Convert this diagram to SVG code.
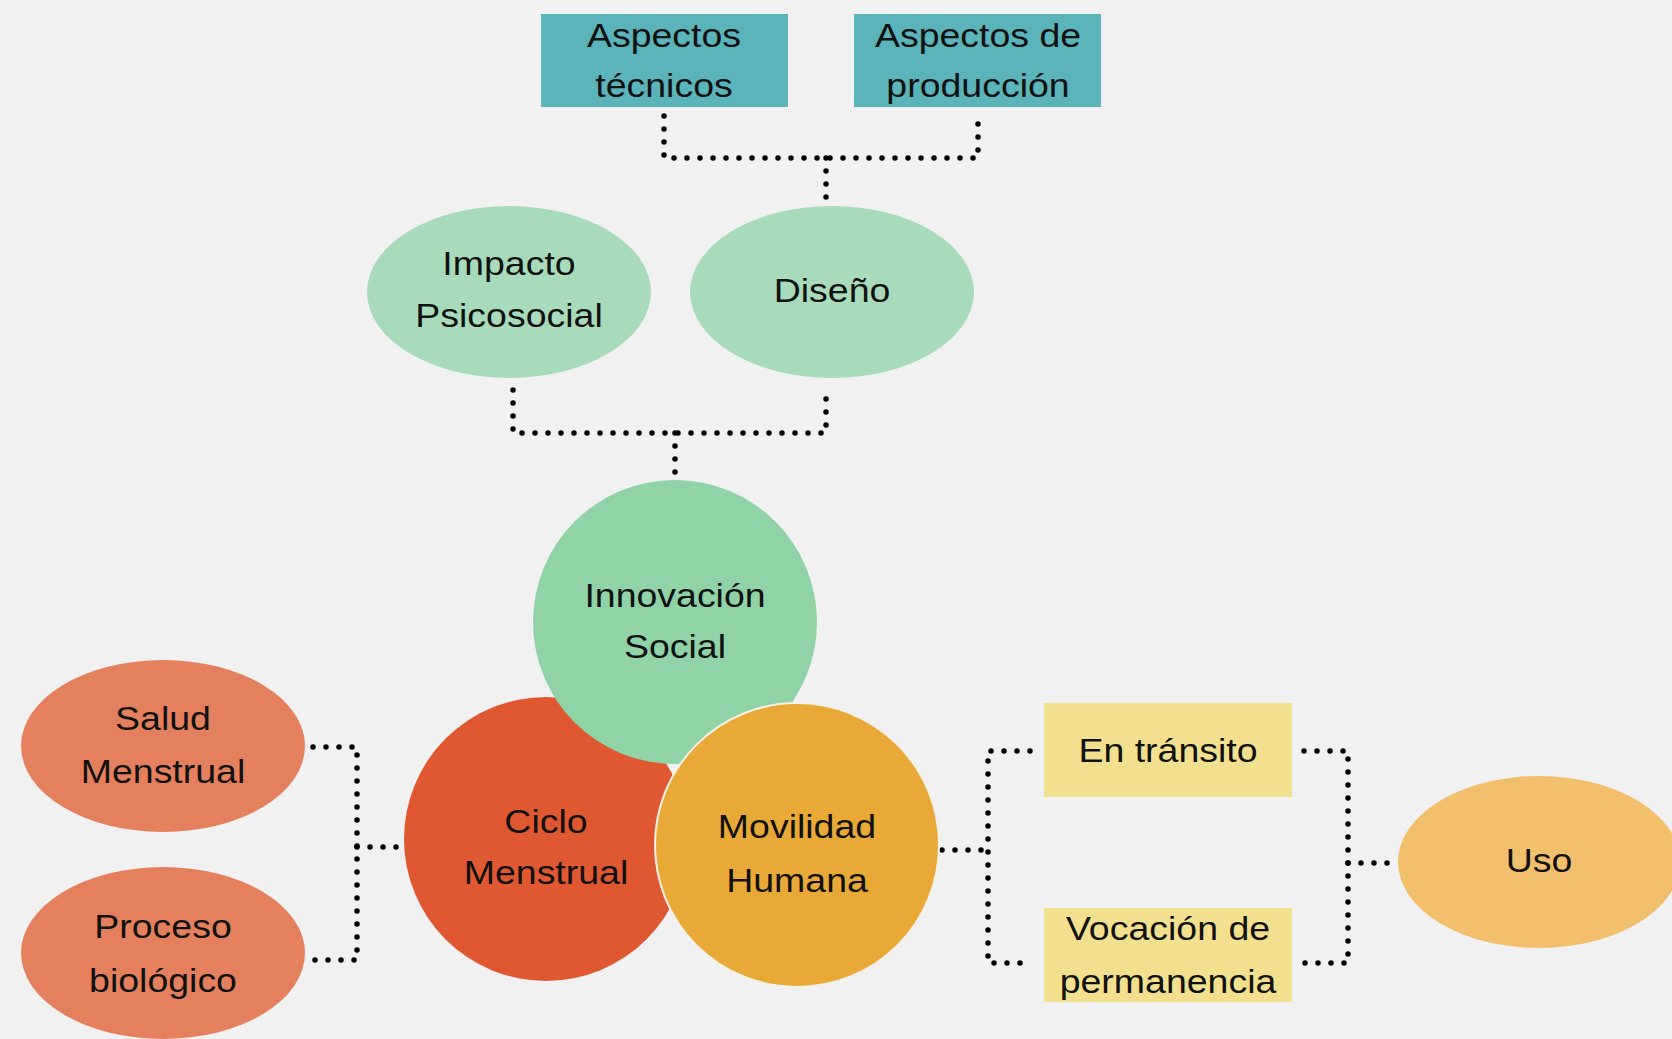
<svg xmlns="http://www.w3.org/2000/svg" width="1672" height="1039" viewBox="0 0 1672 1039">
<style>
  text { font-family: "Liberation Sans", Arial, sans-serif; font-size: 33px; fill: #111; text-anchor: middle; }
  .conn { fill: none; stroke: #000; stroke-width: 5.5; stroke-linecap: round; stroke-dasharray: 0 13; }
  .teal { fill: #5bb4b9; }
  .lgreen { fill: #a8dbb9; }
  .yellow { fill: #f3e08f; }
  .salmon { fill: #e5805e; }
</style>
<rect x="0" y="0" width="1672" height="1039" fill="#f1f1f1"/>

<g id="connectors">
  <path class="conn" d="M664 116 V158 H978 V116"/>
  <path class="conn" d="M826 158 V203"/>
  <path class="conn" d="M513 390 V433 H826 V390"/>
  <path class="conn" d="M675 433 V477"/>
  <path class="conn" d="M313 747 H357 V960 H313"/>
  <path class="conn" d="M357 847 H403"/>
  <path class="conn" d="M1030 751 H988 V963 H1030"/>
  <path class="conn" d="M942 850 H988"/>
  <path class="conn" d="M1304 751 H1348 V963 H1304"/>
  <path class="conn" d="M1348 863 H1392"/>
</g>

<g id="aspectos-tecnicos">
  <rect class="teal" x="541" y="14" width="247" height="93"/>
  <g transform="translate(664 0) scale(1.136 1)">
    <text x="0" y="47">Aspectos</text>
    <text x="0" y="97">técnicos</text>
  </g>
</g>
<g id="aspectos-produccion">
  <rect class="teal" x="854" y="14" width="247" height="93"/>
  <g transform="translate(978 0) scale(1.136 1)">
    <text x="0" y="47">Aspectos de</text>
    <text x="0" y="97">producción</text>
  </g>
</g>

<g id="impacto-psicosocial">
  <ellipse class="lgreen" cx="509" cy="292" rx="142" ry="86"/>
  <g transform="translate(509 0) scale(1.136 1)">
    <text x="0" y="275">Impacto</text>
    <text x="0" y="327">Psicosocial</text>
  </g>
</g>
<g id="diseno">
  <ellipse class="lgreen" cx="832" cy="292" rx="142" ry="86"/>
  <g transform="translate(832 0) scale(1.136 1)">
    <text x="0" y="302">Diseño</text>
  </g>
</g>

<g id="ciclo-menstrual">
  <circle cx="546" cy="839" r="142" fill="#e05832"/>
  <g transform="translate(546 0) scale(1.136 1)">
    <text x="0" y="833">Ciclo</text>
    <text x="0" y="884">Menstrual</text>
  </g>
</g>
<g id="innovacion-social">
  <circle cx="675" cy="622" r="142" fill="#8fd3a6"/>
  <g transform="translate(675 0) scale(1.136 1)">
    <text x="0" y="607">Innovación</text>
    <text x="0" y="658">Social</text>
  </g>
</g>
<g id="movilidad-humana">
  <circle cx="797" cy="845" r="142" fill="#e9a937" stroke="#f3f0ea" stroke-width="2"/>
  <g transform="translate(797 0) scale(1.136 1)">
    <text x="0" y="838">Movilidad</text>
    <text x="0" y="892">Humana</text>
  </g>
</g>

<g id="salud-menstrual">
  <ellipse class="salmon" cx="163" cy="746" rx="142" ry="86"/>
  <g transform="translate(163 0) scale(1.136 1)">
    <text x="0" y="730">Salud</text>
    <text x="0" y="783">Menstrual</text>
  </g>
</g>
<g id="proceso-biologico">
  <ellipse class="salmon" cx="163" cy="953" rx="142" ry="86"/>
  <g transform="translate(163 0) scale(1.136 1)">
    <text x="0" y="938">Proceso</text>
    <text x="0" y="992">biológico</text>
  </g>
</g>

<g id="en-transito">
  <rect class="yellow" x="1044" y="703" width="248" height="94"/>
  <g transform="translate(1168 0) scale(1.136 1)">
    <text x="0" y="762">En tránsito</text>
  </g>
</g>
<g id="vocacion-permanencia">
  <rect class="yellow" x="1044" y="908" width="248" height="94"/>
  <g transform="translate(1168 0) scale(1.136 1)">
    <text x="0" y="940">Vocación de</text>
    <text x="0" y="993">permanencia</text>
  </g>
</g>

<g id="uso">
  <ellipse cx="1539" cy="862" rx="141" ry="86" fill="#f2bf6d"/>
  <g transform="translate(1539 0) scale(1.136 1)">
    <text x="0" y="872">Uso</text>
  </g>
</g>
</svg>
